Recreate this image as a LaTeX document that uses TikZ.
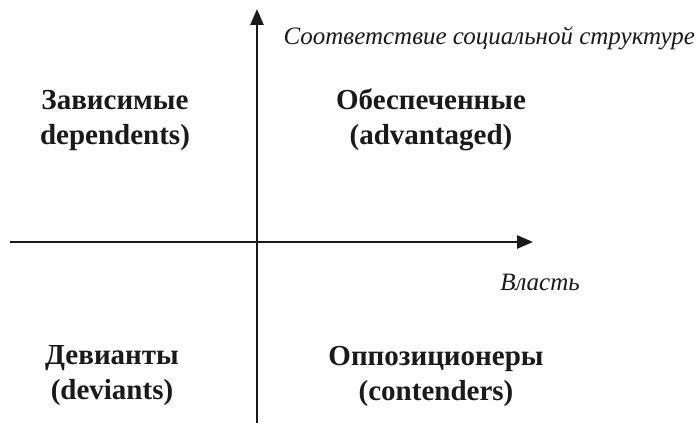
\documentclass[tikz,border=0pt]{standalone}
\usepackage{fontspec}
\setmainfont{Liberation Serif}
\usetikzlibrary{arrows.meta}
\usepackage[rgb]{xcolor}
\definecolor{fg}{HTML}{1A1A1A}
\definecolor{bg}{HTML}{FFFFFF}

\tikzset{
  axis/.style={draw=fg, line width=2.6pt, -{Triangle[length=16pt, width=13pt]}},
  quad/.style={align=center, font=\fontsize{29}{35}\selectfont\bfseries, text=fg},
  axlabel/.style={font=\fontsize{25}{28}\selectfont\itshape, text=fg}
}

\begin{document}
\begin{tikzpicture}[x=1pt, y=1pt]

  \useasboundingbox[fill=bg] (0,0) rectangle (698,423);

  \coordinate (o) at (257,181);
  \coordinate (xl) at (10,181);
  \coordinate (xr) at (533,181);
  \coordinate (yb) at (257,0);
  \coordinate (yt) at (257,414);

  \draw[axis] (xl) -- (xr);
  \draw[axis] (yb) -- (yt);

  \node[axlabel, anchor=west] (ylab) at (280,385) {Соответствие социальной структуре};
  \node[axlabel] (xlab) at (540,141) {Власть};

  \node[quad] (dep) at (115,303) {Зависимые\\dependents)};
  \node[quad] (adv) at (431,303) {Обеспеченные\\(advantaged)};
  \node[quad] (dev) at (112,47) {Девианты\\(deviants)};
  \node[quad] (con) at (436,47) {Оппозиционеры\\(contenders)};

\end{tikzpicture}
\end{document}
